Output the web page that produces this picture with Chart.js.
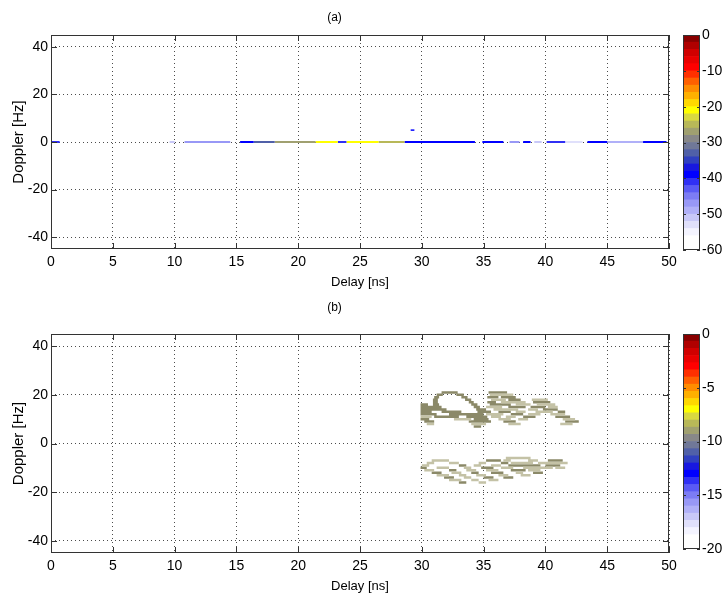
<!DOCTYPE html>
<html>
<head>
<meta charset="utf-8">
<script src="https://cdn.jsdelivr.net/npm/chart.js@4.4.1/dist/chart.umd.min.js"></script>
<style>
  html, body { margin: 0; padding: 0; background: #fff; }
  #wrap { position: relative; width: 723px; height: 599px; }
  .box { position: absolute; }
</style>
</head>
<body>
<div id="wrap">
  <div class="box" style="left:0;top:0"><canvas id="plotA" width="723" height="295"></canvas></div>
  <div class="box" style="left:675px;top:0"><canvas id="barA" width="48" height="295"></canvas></div>
  <div class="box" style="left:0;top:295px"><canvas id="plotB" width="723" height="304"></canvas></div>
  <div class="box" style="left:675px;top:295px"><canvas id="barB" width="48" height="304"></canvas></div>
</div>
<script>
// axes
const delayTicks = [0, 5, 10, 15, 20, 25, 30, 35, 40, 45, 50];
const dopplerTicks = [-40, -20, 0, 20, 40];
const cbTicksA = [0, -10, -20, -30, -40, -50, -60];
const cbTicksB = [0, -5, -10, -15, -20];

// (a) energy along Doppler = 0: [delay start, delay end, level dB]
const segsA = [
  [0, 0.7, -42], [9.6, 10.0, -52], [10.8, 14.5, -48], [15.3, 16.4, -40],
  [16.4, 18.1, -34], [18.1, 21.4, -28], [21.4, 23.2, -21], [23.2, 23.9, -42],
  [23.9, 26.5, -21], [26.5, 28.6, -26], [28.6, 34.3, -40], [34.9, 36.6, -40],
  [37.1, 37.9, -48], [38.2, 38.8, -40], [39.1, 39.7, -52], [40.1, 41.6, -41],
  [41.6, 43.0, -54], [43.4, 45.0, -40], [45.0, 47.9, -49], [47.9, 49.8, -40]
];
// isolated spot: [delay start, delay end, doppler, level dB]
const spotsA = [[29.1, 29.4, 5, -40]];

// (b) contour cells: [doppler, delay start, delay end, shade (1 dark / 0 light)]
const blobRuns = [
  [21, 31.6, 32.9, 1], [21, 35.4, 36.9, 1],
  [20, 31.2, 31.7, 1], [20, 32.8, 33.4, 1], [20, 35.5, 37.4, 0],
  [19, 31.0, 31.4, 1], [19, 33.2, 33.7, 1], [19, 35.3, 36.2, 1], [19, 36.4, 37.6, 1],
  [18, 30.9, 31.3, 1], [18, 33.5, 34.0, 1], [18, 35.6, 36.8, 0], [18, 37.0, 38.0, 1], [18, 38.9, 40.2, 0],
  [17, 30.9, 31.3, 1], [17, 33.8, 34.2, 1], [17, 35.3, 36.0, 1], [17, 36.4, 38.4, 0], [17, 39.0, 40.4, 1],
  [16, 29.9, 30.5, 1], [16, 30.9, 31.4, 1], [16, 34.0, 34.5, 1], [16, 35.5, 37.2, 1], [16, 37.6, 38.8, 0], [16, 39.3, 40.8, 0],
  [15, 29.9, 31.6, 1], [15, 34.2, 34.7, 1], [15, 35.2, 36.5, 0], [15, 37.0, 38.4, 1], [15, 38.8, 40.0, 1], [15, 40.2, 41.0, 0],
  [14, 29.9, 32.0, 1], [14, 34.4, 35.2, 1], [14, 35.8, 37.8, 0], [14, 38.6, 39.4, 0], [14, 39.8, 41.0, 1],
  [13, 29.9, 30.8, 1], [13, 31.6, 33.2, 1], [13, 34.5, 35.6, 1], [13, 36.2, 37.2, 1], [13, 37.6, 38.4, 0], [13, 39.2, 40.6, 0], [13, 41.0, 41.6, 1],
  [12, 29.9, 31.2, 1], [12, 32.2, 35.0, 1], [12, 35.2, 36.6, 0], [12, 37.2, 38.2, 1], [12, 38.6, 39.6, 0], [12, 40.4, 41.6, 0],
  [11, 29.9, 30.8, 0], [11, 31.0, 33.0, 1], [11, 33.6, 35.3, 1], [11, 35.6, 36.4, 0], [11, 36.8, 37.6, 0], [11, 38.2, 39.2, 1], [11, 40.8, 42.0, 1],
  [10, 29.9, 30.6, 1], [10, 32.6, 34.0, 0], [10, 34.2, 35.4, 1], [10, 36.2, 37.2, 0], [10, 37.8, 38.6, 0], [10, 41.4, 42.4, 0],
  [9, 30.2, 31.0, 1], [9, 33.8, 35.6, 1], [9, 36.6, 37.6, 1], [9, 41.6, 42.7, 1],
  [8, 30.4, 31.0, 0], [8, 34.0, 35.2, 0], [8, 37.0, 38.0, 0], [8, 41.2, 42.2, 0],
  [7, 34.2, 34.8, 1],
  [-6, 36.8, 38.8, 0],
  [-7, 30.8, 32.2, 0], [-7, 35.2, 36.4, 1], [-7, 36.6, 37.2, 0], [-7, 38.6, 39.4, 0], [-7, 40.2, 41.4, 1],
  [-8, 30.4, 31.0, 0], [-8, 32.2, 33.0, 0], [-8, 34.6, 35.2, 0], [-8, 36.4, 37.0, 1], [-8, 37.2, 39.0, 0], [-8, 39.4, 41.8, 0],
  [-9, 30.0, 30.6, 0], [-9, 33.0, 33.6, 1], [-9, 34.2, 34.8, 0], [-9, 35.6, 36.4, 0], [-9, 37.0, 39.6, 1], [-9, 40.0, 41.2, 1],
  [-10, 29.9, 30.4, 1], [-10, 31.2, 32.2, 0], [-10, 33.4, 34.0, 0], [-10, 34.8, 35.8, 1], [-10, 36.4, 37.4, 0], [-10, 38.2, 40.6, 0], [-10, 40.8, 41.6, 0],
  [-11, 30.2, 31.0, 0], [-11, 32.2, 32.8, 1], [-11, 33.6, 34.4, 0], [-11, 35.2, 36.2, 0], [-11, 37.2, 38.4, 1], [-11, 38.6, 39.6, 0],
  [-12, 30.8, 31.6, 1], [-12, 32.4, 33.2, 0], [-12, 34.0, 34.6, 1], [-12, 35.6, 36.6, 1], [-12, 37.6, 38.2, 0], [-12, 39.0, 39.8, 1],
  [-13, 31.2, 32.2, 0], [-13, 33.0, 33.6, 0], [-13, 34.4, 35.2, 0], [-13, 36.2, 37.0, 0], [-13, 38.0, 38.8, 0],
  [-14, 31.8, 32.6, 1], [-14, 33.4, 34.0, 0], [-14, 35.0, 35.8, 1], [-14, 36.6, 37.4, 1],
  [-15, 32.2, 33.2, 0], [-15, 34.0, 34.6, 0], [-15, 35.4, 36.2, 0],
  [-16, 33.0, 33.6, 1], [-16, 34.6, 35.2, 0]
];

// colour map, bottom (min) to top (max)
const cmap = [
  '#ffffff', '#ffffff', '#f4f4ff', '#e0e0fb', '#c8c8f8', '#b0b0f8', '#9898f6', '#7c7cf4',
  '#5a5af4', '#3030f4', '#0000ff', '#1818e0', '#3040c0', '#5060a8', '#707898', '#888888',
  '#a0a070', '#b8b858', '#d8d840', '#ffff00', '#ffd800', '#ffb000', '#ff8c00', '#ff6000',
  '#ff3000', '#ff0000', '#e80000', '#d00000', '#b00000', '#880000'
];
const shadeColors = ['#c4c2a6', '#8b8968'];

const tickFont = { family: "'Liberation Sans Narrow', 'Liberation Sans', Arial", size: 14 };
const axisColor = '#333';

function levelColor(v, min, max) {
  let i = Math.floor((v - min) / (max - min) * cmap.length);
  i = Math.max(0, Math.min(cmap.length - 1, i));
  return cmap[i];
}

// box around the axes plus inward ticks, MATLAB style
const boxTicks = {
  id: 'boxTicks',
  afterDraw(chart, args, opts) {
    const { ctx, chartArea: a, scales } = chart;
    ctx.save();
    ctx.strokeStyle = axisColor;
    ctx.lineWidth = 1;
    ctx.strokeRect(Math.round(a.left) + 0.5, Math.round(a.top) + 0.5,
                   Math.round(a.width) - 1, Math.round(a.height) - 1);
    const len = opts.len || 0;
    ctx.beginPath();
    if (len && scales.x && scales.x.type === 'linear') {
      scales.x.ticks.forEach(t => {
        const px = Math.round(scales.x.getPixelForValue(t.value)) + 0.5;
        ctx.moveTo(px, a.bottom); ctx.lineTo(px, a.bottom - len);
        ctx.moveTo(px, a.top); ctx.lineTo(px, a.top + len);
      });
    }
    if (len) {
      scales.y.ticks.forEach(t => {
        const py = Math.round(scales.y.getPixelForValue(t.value)) + 0.5;
        ctx.moveTo(a.left, py); ctx.lineTo(a.left + len, py);
        ctx.moveTo(a.right, py); ctx.lineTo(a.right - len, py);
      });
    }
    ctx.stroke();
    ctx.restore();
  }
};

function heatOptions(title, titlePad, xHeight) {
  return {
    responsive: false,
    animation: false,
    layout: { padding: { left: 0, right: 54, top: 0, bottom: 0 } },
    plugins: {
      legend: { display: false },
      tooltip: { enabled: false },
      title: {
        display: true, text: title, color: '#000',
        font: { family: tickFont.family, size: 12, weight: 'normal' },
        padding: titlePad
      },
      boxTicks: { len: 6 }
    },
    scales: {
      x: {
        type: 'linear', min: 0, max: 50,
        afterBuildTicks: s => { s.ticks = delayTicks.map(v => ({ value: v })); },
        afterFit: s => { s.height = xHeight; },
        ticks: { color: '#000', font: tickFont, padding: 5, maxRotation: 0 },
        grid: { color: 'rgba(0,0,0,0.7)', lineWidth: 1, drawTicks: false },
        border: { display: false, dash: [1, 3] },
        title: {
          display: true, text: 'Delay [ns]', color: '#000',
          font: { family: tickFont.family, size: 13 }, padding: { top: 0, bottom: 5 }
        }
      },
      y: {
        type: 'linear', min: -45, max: 45,
        afterBuildTicks: s => { s.ticks = dopplerTicks.map(v => ({ value: v })); },
        afterFit: s => { s.width = 51; },
        ticks: { color: '#000', font: tickFont, padding: 3 },
        grid: { color: 'rgba(0,0,0,0.7)', lineWidth: 1, drawTicks: false },
        border: { display: false, dash: [1, 3] },
        title: {
          display: true, text: 'Doppler [Hz]', color: '#000',
          font: { family: "'Liberation Sans', Arial", size: 15 }, padding: { top: 10, bottom: 0 }
        }
      }
    }
  };
}

function colorbar(id, min, max, ticks, top, bottom) {
  const step = (max - min) / cmap.length;
  new Chart(document.getElementById(id), {
    type: 'bar',
    data: {
      labels: ['cb'],
      datasets: cmap.map((c, i) => ({
        data: [[min + i * step, min + (i + 1) * step]],
        backgroundColor: c, borderWidth: 0, grouped: false,
        barPercentage: 1, categoryPercentage: 1
      }))
    },
    options: {
      responsive: false,
      animation: false,
      layout: { padding: { left: 8, right: 0, top: top, bottom: bottom } },
      plugins: { legend: { display: false }, tooltip: { enabled: false }, boxTicks: { len: 3 } },
      scales: {
        x: { display: false },
        y: {
          position: 'right', min: min, max: max,
          afterBuildTicks: s => { s.ticks = ticks.map(v => ({ value: v })); },
          afterFit: s => { s.width = 23; },
          ticks: { color: '#000', font: tickFont, padding: 2 },
          grid: { display: false, drawTicks: false },
          border: { display: false }
        }
      }
    },
    plugins: [boxTicks]
  });
}

// (a)
const dsA = segsA.map(([s, e, lv]) => ({
  data: [{ x: s, y: 0 }, { x: e, y: 0 }],
  borderColor: levelColor(lv, -60, 0), borderWidth: 2,
  borderCapStyle: 'butt', pointRadius: 0, fill: false
}));
spotsA.forEach(([s, e, d, lv]) => dsA.push({
  data: [{ x: s, y: d }, { x: e, y: d }],
  borderColor: levelColor(lv, -60, 0), borderWidth: 1.5,
  borderCapStyle: 'butt', pointRadius: 0, fill: false
}));
new Chart(document.getElementById('plotA'), {
  type: 'line',
  data: { datasets: dsA },
  options: heatOptions('(a)', { top: 10, bottom: 10.6 }, 46),
  plugins: [boxTicks]
});
colorbar('barA', -60, 0, cbTicksA, 35, 45);

// (b)
const dsB = [0, 1].map(shade => {
  const pts = [];
  blobRuns.filter(r => r[3] === shade).forEach(([d, s, e]) => {
    pts.push({ x: s, y: d }, { x: e, y: d }, { x: e, y: null });
  });
  return {
    data: pts, borderColor: shadeColors[shade], borderWidth: 2.5,
    borderCapStyle: 'butt', pointRadius: 0, fill: false, spanGaps: false
  };
});
new Chart(document.getElementById('plotB'), {
  type: 'line',
  data: { datasets: dsB },
  options: heatOptions('(b)', { top: 5.8, bottom: 18.8 }, 46),
  plugins: [boxTicks]
});
colorbar('barB', -20, 0, cbTicksB, 39, 50);
</script>
</body>
</html>
